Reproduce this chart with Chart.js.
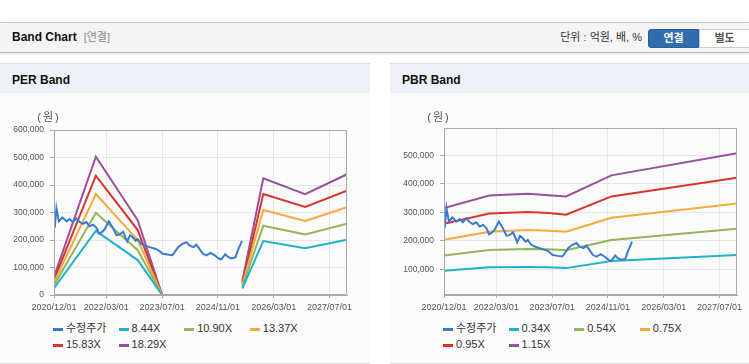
<!DOCTYPE html>
<html>
<head>
<meta charset="utf-8">
<title>Band Chart</title>
<script src="https://cdn.jsdelivr.net/npm/chart.js@4.4.1/dist/chart.umd.min.js"></script>
<style>
  body { margin: 0; width: 749px; height: 364px; overflow: hidden; position: relative; background: #fff;
         font-family: "Liberation Sans", "Noto Sans CJK KR", sans-serif; color: #333; }
  .topbar { position: absolute; left: 0; top: 22px; width: 749px; height: 29px; background: #f4f4f4;
            border-top: 1px solid #c6c6c6; border-bottom: 1px solid #b9b9b9; box-shadow: 0 1px 2px rgba(0,0,0,0.12); }
  .topbar .title { position: absolute; left: 12px; top: 0; line-height: 29px; font-size: 12px; font-weight: bold; color: #111; }
  .topbar .sub { color: #8a8a8a; font-weight: normal; margin-left: 7px; font-size: 11px; }
  .unit { position: absolute; right: 107px; top: 0; line-height: 29px; font-size: 11px; color: #333; }
  .btn { position: absolute; top: 6px; height: 17px; width: 49px; line-height: 17px; text-align: center;
         font-size: 11px; font-weight: bold; }
  .btn.on { left: 648px; background: #2f6db0; color: #fff; border: 1px solid #2a5f9a; border-radius: 3px 0 0 3px; }
  .btn.off { left: 699px; background: #fff; color: #555; border: 1px solid #c9c9c9; }
  .panel { position: absolute; top: 63px; width: 370px; height: 299px; background: #fbfbfb;
           border-top: 1px solid #dedede; border-bottom: 1px solid #dedede; }
  .panel h3 { margin: 0; height: 29px; line-height: 33px; padding-left: 12px; font-size: 12px; background: #eef1f6; color: #111; }
  .panel canvas { position: absolute; left: 0; top: 29px; }
  .legend { position: absolute; left: 53px; top: 256px; width: 263px; display: flex; flex-wrap: wrap; font-size: 11px; color: #333; }
  .legend span { width: 65.6px; height: 16px; line-height: 16px; white-space: nowrap; }
  .legend i { display: inline-block; width: 10px; height: 3px; margin-right: 3px; vertical-align: middle; }
</style>
</head>
<body>
<div class="topbar">
  <div class="title">Band Chart<span class="sub">[연결]</span></div>
  <div class="unit">단위 : 억원, 배, %</div>
  <div class="btn on">연결</div>
  <div class="btn off">별도</div>
</div>

<div class="panel" style="left:0">
  <h3>PER Band</h3>
  <canvas id="perChart" width="370" height="225"></canvas>
  <div class="legend" id="perLegend"></div>
</div>

<div class="panel" style="left:390px">
  <h3>PBR Band</h3>
  <canvas id="pbrChart" width="370" height="225"></canvas>
  <div class="legend" id="pbrLegend"></div>
</div>

<script>
// x values are months counted from 2020/12/01
const tickMonths = [0, 15, 31, 47, 63, 79];
const tickLabels = ['2020/12/01', '2022/03/01', '2023/07/01', '2024/11/01', '2026/03/01', '2027/07/01'];

const priceLabel = '수정주가';
const priceMonths = [0.2, 0.7, 1.4, 2.4, 3.6, 4.5, 5.4, 6.4, 7.4, 8.3, 9.3, 10.2, 11.2, 12.2, 12.9, 13.5,
  14.5, 15.7, 16.9, 17.9, 18.8, 19.8, 21.0, 21.8, 22.6, 23.4, 24.0, 25.0, 26.0, 27.4, 28.9, 29.8,
  31.2, 32.6, 33.9, 34.6, 35.6, 36.8, 38.0, 38.8, 40.0, 40.8, 41.7, 42.7, 43.7, 44.9, 46.1, 47.2,
  47.9, 49.1, 49.8, 50.8, 52.0, 52.7, 53.9];
const prices = [244000, 315000, 268000, 282000, 268000, 276000, 265000, 279000, 265000, 259000, 265000,
  250000, 256000, 244000, 223000, 227000, 238000, 268000, 244000, 218000, 220000, 230000, 195000,
  217000, 209000, 197000, 203000, 186000, 180000, 174000, 168000, 164000, 150000, 147000, 145000,
  156000, 174000, 186000, 192000, 180000, 174000, 183000, 168000, 150000, 144000, 153000, 144000,
  133000, 129000, 148000, 139000, 133000, 137000, 162000, 197000];

// PER band (null = no band)
const perLabels = ['8.44X', '10.90X', '13.37X', '15.83X', '18.29X'];
const perMonths = [0, 12, 24, 31, 42, 54, 60, 72, 84];
const per844 = [25000, 233000, 127000, 0, null, 24000, 196000, 170000, 201000];
const per1090 = [35000, 299000, 163000, 0, null, 30000, 252000, 220000, 259000];
const per1337 = [45000, 367000, 200000, 0, null, 36000, 309000, 269000, 319000];
const per1583 = [55000, 434000, 236000, 0, null, 42000, 367000, 320000, 379000];
const per1829 = [66000, 503000, 272000, 0, null, 51000, 424000, 367000, 439000];
const perTicks = [0, 100000, 200000, 300000, 400000, 500000, 600000];

// PBR band
const pbrLabels = ['0.34X', '0.54X', '0.75X', '0.95X', '1.15X'];
const pbrMonths = [0, 13, 24, 30, 35, 48, 84];
const pbr034 = [95000, 107000, 108000, 107000, 104000, 129000, 150000];
const pbr054 = [148000, 168000, 171000, 170000, 167000, 203000, 242000];
const pbr075 = [204000, 232000, 238000, 235000, 232000, 281000, 331000];
const pbr095 = [260000, 296000, 301000, 298000, 292000, 356000, 422000];
const pbr115 = [315000, 359000, 365000, 360000, 356000, 430000, 508000];
const pbrTicks = [100000, 200000, 300000, 400000, 500000];

const priceColor = '#3a7bcf';
const bandColors = ['#20b2c8', '#93b65a', '#f5aa3c', '#d8342b', '#9b4f9f'];

function toPoints(xs, ys) {
  return xs.map((x, i) => ({ x: x, y: ys[i] }));
}

function makeSets(labels, months, series) {
  const sets = [{ label: priceLabel, data: toPoints(priceMonths, prices), borderColor: priceColor }];
  series.forEach((s, i) => {
    sets.push({ label: labels[i], data: toPoints(months, s), borderColor: bandColors[i] });
  });
  return sets;
}

// grey frame round the plot and the (원) unit above the axis
const frame = {
  id: 'frame',
  afterDraw(chart) {
    const a = chart.chartArea, ctx = chart.ctx;
    ctx.save();
    ctx.strokeStyle = '#a9a9a9';
    ctx.lineWidth = 1;
    ctx.strokeRect(Math.round(a.left) + 0.5, Math.round(a.top) + 0.5, Math.round(a.width) - 1, Math.round(a.height) - 1);
    ctx.fillStyle = '#555';
    ctx.font = '11px "Liberation Sans", "Noto Sans CJK KR"';
    ctx.textAlign = 'center';
    ctx.textBaseline = 'middle';
    ctx.letterSpacing = '2px';
    ctx.fillText('(원)', a.left - 5, 25);
    ctx.restore();
  }
};

function makeChart(id, datasets, yMin, yMax, yTicks, topPad) {
  return new Chart(document.getElementById(id), {
    type: 'line',
    data: { datasets: datasets },
    options: {
      responsive: false,
      animation: false,
      layout: { padding: { top: topPad, right: 23, bottom: 0, left: 0 } },
      plugins: { legend: { display: false }, tooltip: { enabled: false } },
      elements: {
        point: { radius: 0 },
        line: { borderWidth: 2, tension: 0 }
      },
      scales: {
        x: {
          type: 'linear',
          min: 0,
          max: 84,
          afterBuildTicks: s => { s.ticks = tickMonths.map(v => ({ value: v })); },
          afterFit: s => { s.height = 23; },
          ticks: {
            color: '#555',
            font: { size: 9, family: '"Liberation Sans", sans-serif' },
            padding: 4,
            maxRotation: 0,
            callback: v => tickLabels[tickMonths.indexOf(v)]
          },
          grid: { color: '#e6e6e6', tickColor: '#a9a9a9', tickLength: 3 },
          border: { color: '#a9a9a9' }
        },
        y: {
          min: yMin,
          max: yMax,
          afterBuildTicks: s => { s.ticks = yTicks.map(v => ({ value: v })); },
          afterFit: s => { s.width = 54; },
          ticks: {
            color: '#555',
            font: { size: 8.5, family: '"Liberation Sans", sans-serif' },
            padding: 6,
            callback: v => v.toLocaleString('en-US')
          },
          grid: { color: '#e6e6e6', tickColor: '#a9a9a9', tickLength: 4 },
          border: { color: '#a9a9a9' }
        }
      }
    },
    plugins: [frame]
  });
}

function buildLegend(chart, id) {
  const box = document.getElementById(id);
  chart.data.datasets.forEach(ds => {
    const item = document.createElement('span');
    item.innerHTML = '<i style="background:' + ds.borderColor + '"></i>' + ds.label;
    box.appendChild(item);
  });
}

const perChart = makeChart('perChart',
  makeSets(perLabels, perMonths, [per844, per1090, per1337, per1583, per1829]),
  0, 600000, perTicks, 37);
buildLegend(perChart, 'perLegend');

const pbrChart = makeChart('pbrChart',
  makeSets(pbrLabels, pbrMonths, [pbr034, pbr054, pbr075, pbr095, pbr115]),
  9500, 596500, pbrTicks, 35);
buildLegend(pbrChart, 'pbrLegend');
</script>
</body>
</html>
